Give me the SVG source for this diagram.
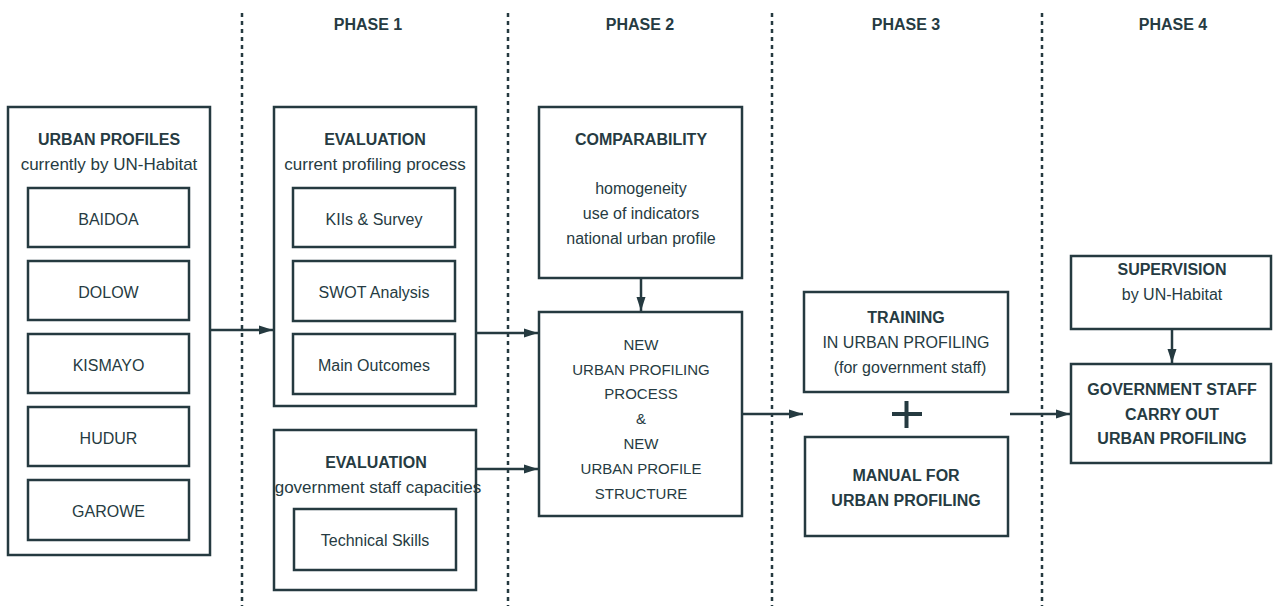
<svg xmlns="http://www.w3.org/2000/svg" width="1273" height="606" viewBox="0 0 1273 606">
<defs>
<style>
.box{fill:#fff;stroke:#253a40;stroke-width:2.5}
.div{stroke:#253a40;stroke-width:2.5;stroke-dasharray:4 4;fill:none}
.con{stroke:#253a40;stroke-width:2.5;fill:none}
text{font-family:"Liberation Sans",Arial,sans-serif;fill:#263b42;text-anchor:middle}
.h{font-weight:bold;font-size:16px}
.s{font-size:17px}
.t{font-size:16px}
.m{font-size:15px}
</style>
<marker id="ah" markerUnits="userSpaceOnUse" markerWidth="14" markerHeight="10" refX="14" refY="5" orient="auto">
<path d="M0,0.5 L14,5 L0,9.5 z" fill="#253a40"/>
</marker>
</defs>
<rect width="1273" height="606" fill="#fff"/>

<g id="phases">
<line class="div" x1="242" y1="13" x2="242" y2="606"/>
<line class="div" x1="508" y1="13" x2="508" y2="606"/>
<line class="div" x1="772" y1="13" x2="772" y2="606"/>
<line class="div" x1="1042" y1="13" x2="1042" y2="606"/>
<text class="h" x="368" y="30">PHASE 1</text>
<text class="h" x="640" y="30">PHASE 2</text>
<text class="h" x="906" y="30">PHASE 3</text>
<text class="h" x="1173" y="30">PHASE 4</text>
</g>

<g id="urban-profiles">
<rect class="box" x="8" y="107" width="202" height="448"/>
<text class="h" x="109" y="145">URBAN PROFILES</text>
<text class="s" x="109" y="170">currently by UN-Habitat</text>
</g>
<g id="baidoa"><rect class="box" x="28" y="188" width="161" height="59"/><text class="t" x="108.5" y="225">BAIDOA</text></g>
<g id="dolow"><rect class="box" x="28" y="261" width="161" height="59"/><text class="t" x="108.5" y="298">DOLOW</text></g>
<g id="kismayo"><rect class="box" x="28" y="334" width="161" height="59"/><text class="t" x="108.5" y="371">KISMAYO</text></g>
<g id="hudur"><rect class="box" x="28" y="407" width="161" height="59"/><text class="t" x="108.5" y="444">HUDUR</text></g>
<g id="garowe"><rect class="box" x="28" y="480" width="161" height="60"/><text class="t" x="108.5" y="517">GAROWE</text></g>

<g id="evaluation-process">
<rect class="box" x="274" y="107" width="202" height="299"/>
<text class="h" x="375" y="145">EVALUATION</text>
<text class="s" x="375" y="170">current profiling process</text>
</g>
<g id="kiis"><rect class="box" x="293" y="188" width="162" height="59"/><text class="t" x="374" y="225">KIIs &amp; Survey</text></g>
<g id="swot"><rect class="box" x="293" y="261" width="162" height="60"/><text class="t" x="374" y="298">SWOT Analysis</text></g>
<g id="outcomes"><rect class="box" x="293" y="334" width="162" height="60"/><text class="t" x="374" y="371">Main Outcomes</text></g>

<g id="evaluation-staff">
<rect class="box" x="274" y="430" width="202" height="160"/>
<text class="h" x="376" y="468">EVALUATION</text>
<text class="s" x="378" y="493">government staff capacities</text>
</g>
<g id="skills"><rect class="box" x="294" y="509" width="162" height="61"/><text class="t" x="375" y="546">Technical Skills</text></g>

<g id="comparability">
<rect class="box" x="539" y="107" width="203" height="171"/>
<text class="h" x="641" y="145">COMPARABILITY</text>
<text class="t" x="641" y="194">homogeneity</text>
<text class="t" x="641" y="219">use of indicators</text>
<text class="t" x="641" y="244">national urban profile</text>
</g>

<g id="new-process">
<rect class="box" x="539" y="312" width="203" height="204"/>
<text class="m" x="641" y="350">NEW</text>
<text class="m" x="641" y="375">URBAN PROFILING</text>
<text class="m" x="641" y="399">PROCESS</text>
<text class="m" x="641" y="424">&amp;</text>
<text class="m" x="641" y="449">NEW</text>
<text class="m" x="641" y="474">URBAN PROFILE</text>
<text class="m" x="641" y="499">STRUCTURE</text>
</g>

<g id="training">
<rect class="box" x="804" y="292" width="204" height="100"/>
<text class="h" x="906" y="323">TRAINING</text>
<text class="t" x="906" y="348">IN URBAN PROFILING</text>
<text class="t" x="910" y="373">(for government staff)</text>
</g>

<g id="plus">
<line x1="892" y1="414" x2="922" y2="414" stroke="#253a40" stroke-width="4"/>
<line x1="906.5" y1="401" x2="906.5" y2="428" stroke="#253a40" stroke-width="4"/>
</g>

<g id="manual">
<rect class="box" x="805" y="437" width="203" height="99"/>
<text class="h" x="906" y="481">MANUAL FOR</text>
<text class="h" x="906" y="506">URBAN PROFILING</text>
</g>

<g id="supervision">
<rect class="box" x="1071" y="256" width="200" height="73"/>
<text class="h" x="1172" y="275">SUPERVISION</text>
<text class="t" x="1172" y="300">by UN-Habitat</text>
</g>

<g id="government">
<rect class="box" x="1071" y="364" width="200" height="99"/>
<text class="h" x="1172" y="395">GOVERNMENT STAFF</text>
<text class="h" x="1172" y="420">CARRY OUT</text>
<text class="h" x="1172" y="444">URBAN PROFILING</text>
</g>

<g id="connectors">
<line class="con" x1="210" y1="330" x2="273" y2="330" marker-end="url(#ah)"/>
<line class="con" x1="476" y1="333" x2="538" y2="333" marker-end="url(#ah)"/>
<line class="con" x1="476" y1="469" x2="538" y2="469" marker-end="url(#ah)"/>
<line class="con" x1="641" y1="278" x2="641" y2="311" marker-end="url(#ah)"/>
<line class="con" x1="742" y1="414" x2="803" y2="414" marker-end="url(#ah)"/>
<line class="con" x1="1010" y1="414" x2="1070" y2="414" marker-end="url(#ah)"/>
<line class="con" x1="1172" y1="329" x2="1172" y2="363" marker-end="url(#ah)"/>
</g>
</svg>
